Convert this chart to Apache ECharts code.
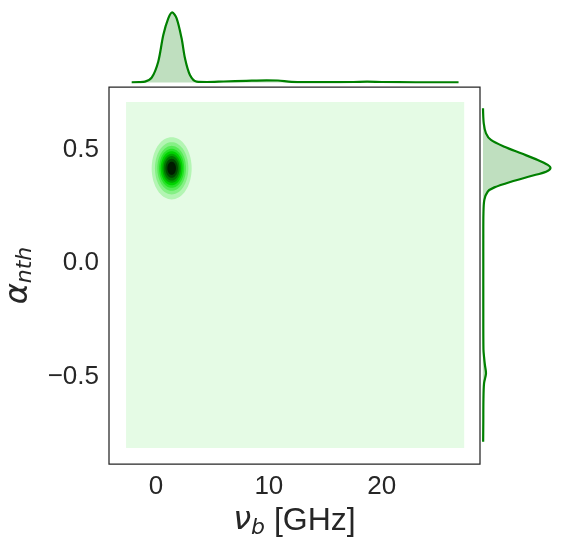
<!DOCTYPE html>
<html>
<head>
<meta charset="utf-8">
<title>joint KDE</title>
<script src="https://cdn.jsdelivr.net/npm/echarts@6/dist/echarts.min.js"></script>
<style>
  html, body { margin: 0; padding: 0; background: #fff; }
  #chart { width: 564px; height: 548px; }
</style>
</head>
<body>
<div id="chart"></div>
<script>
// tick labels
const xTicks = [0, 10, 20]
const yTicks = [-0.5, 0.0, 0.5]

// top marginal: KDE of nu_b
const topX = [-2.15, -1.5, -0.97, -0.38, 0.2, 0.65, 1.09, 1.44, 1.83, 2.27, 2.57, 3.01, 3.6, 4.5, 6, 8, 9.8, 10.8, 12, 15, 17.5, 18.7, 20, 23, 26.8]
const topDensity = [0.001, 0.002, 0.005, 0.029, 0.125, 0.285, 0.385, 0.421, 0.385, 0.265, 0.145, 0.045, 0.005, 0.003, 0.006, 0.010, 0.013, 0.012, 0.004, 0.002, 0.003, 0.005, 0.003, 0.001, 0.001]

// right marginal: KDE of alpha_nth
const rightY = [0.681, 0.615, 0.571, 0.542, 0.512, 0.483, 0.454, 0.432, 0.417, 0.402, 0.383, 0.358, 0.333, 0.314, 0.278, 0.219, 0.1, 0.0, -0.2, -0.38, -0.413, -0.45, -0.486, -0.53, -0.6, -0.7, -0.787]
const rightDensity = [0.0, 0.05, 0.2, 0.53, 1.43, 2.54, 3.65, 4.32, 4.5, 4.21, 3.21, 1.87, 0.76, 0.31, 0.09, 0.03, 0.02, 0.02, 0.02, 0.03, 0.07, 0.13, 0.2, 0.07, 0.03, 0.02, 0.01]

// 2d KDE: lowest level fills the whole grid, then nested contours round the peak
const kdeExtentX = [-2.65, 27.3]
const kdeExtentY = [-0.815, 0.709]
const blobCenter = [1.39, 0.417]
const levelHalfX = [1.77, 1.48, 1.27, 1.11, 0.97, 0.83, 0.70, 0.55, 0.38]
const levelHalfY = [0.137, 0.115, 0.099, 0.086, 0.075, 0.064, 0.054, 0.042, 0.029]

// colours: light green -> lime -> black
const bgColor = '#e5fbe5'
const levelColors = ['#b3f5b3', '#85f085', '#55ea55', '#27e227', '#00d200', '#00a500', '#007700', '#004a00', '#001c00']
const lineGreen = '#008000'
const fillGreen = 'rgba(0,128,0,0.25)'
const textColor = '#262626'

const xRange = [-4.16, 28.7]
const yRange = [-0.885, 0.775]

const myChart = echarts.init(document.getElementById('chart'))

// axis titles with subscripts
const subRich = {
  g: { fontFamily: 'DejaVu Sans', fontStyle: 'italic', fontSize: 32, color: textColor },
  s: { fontFamily: 'DejaVu Sans', fontStyle: 'italic', fontSize: 22, color: textColor, padding: [14, 0, 0, 0] },
  r: { fontFamily: 'Liberation Sans', fontSize: 32, color: textColor }
}

myChart.setOption({
  animation: false,
  grid: [
    { left: 109, top: 87, width: 371, height: 377, outerBoundsMode: 'none', show: true, borderColor: textColor, borderWidth: 1.25, backgroundColor: 'transparent' },
    { left: 109, top: 10, width: 371, height: 72.5, outerBoundsMode: 'none' },
    { left: 483, top: 87, width: 70, height: 377, outerBoundsMode: 'none' }
  ],
  xAxis: [
    {
      gridIndex: 0, type: 'value', min: xRange[0], max: xRange[1],
      axisLine: { show: false }, axisTick: { show: false }, splitLine: { show: false },
      axisLabel: {
        customValues: xTicks, margin: 10, fontSize: 26, fontFamily: 'Liberation Sans', color: textColor,
        formatter: v => String(v)
      },
      name: '{g|ν}{s|b}{r| [GHz]}', nameLocation: 'middle', nameGap: 37,
      nameTextStyle: { rich: subRich }
    },
    { gridIndex: 1, type: 'value', min: xRange[0], max: xRange[1], show: false },
    { gridIndex: 2, type: 'value', min: 0, max: 4.67, show: false }
  ],
  yAxis: [
    {
      gridIndex: 0, type: 'value', min: yRange[0], max: yRange[1],
      axisLine: { show: false }, axisTick: { show: false }, splitLine: { show: false },
      axisLabel: {
        customValues: yTicks, margin: 10, fontSize: 26, fontFamily: 'Liberation Sans', color: textColor,
        formatter: v => v.toFixed(1).replace('-', '\u2212')
      },
      name: '{g|α}{s|nth}', nameLocation: 'middle', nameRotate: 90, nameGap: 70,
      nameTextStyle: { rich: subRich }
    },
    { gridIndex: 1, type: 'value', min: 0, max: 0.435, show: false },
    { gridIndex: 2, type: 'value', min: yRange[0], max: yRange[1], show: false }
  ],
  series: [
    {
      // lowest KDE level
      type: 'custom', xAxisIndex: 0, yAxisIndex: 0, clip: true, silent: true,
      data: [[kdeExtentX[0], kdeExtentY[0], kdeExtentX[1], kdeExtentY[1]]],
      encode: { x: [0, 2], y: [1, 3] },
      renderItem (params, api) {
        const p0 = api.coord([api.value(0), api.value(3)])
        const p1 = api.coord([api.value(2), api.value(1)])
        return { type: 'rect', shape: { x: p0[0], y: p0[1], width: p1[0] - p0[0], height: p1[1] - p0[1] }, style: { fill: bgColor } }
      }
    },
    {
      // nested contour levels
      type: 'custom', xAxisIndex: 0, yAxisIndex: 0, clip: true, silent: true,
      data: levelHalfX.map((hx, i) => [blobCenter[0], blobCenter[1], hx, levelHalfY[i]]),
      encode: { x: 0, y: 1 },
      renderItem (params, api) {
        const cx = api.value(0); const cy = api.value(1)
        const hx = api.value(2); const hy = api.value(3)
        const pts = []
        for (let k = 0; k < 72; k++) {
          const t = k / 72 * Math.PI * 2
          pts.push(api.coord([cx + hx * Math.cos(t), cy + hy * Math.sin(t)]))
        }
        return { type: 'polygon', shape: { points: pts }, style: { fill: levelColors[params.dataIndex] } }
      }
    },
    {
      type: 'line', xAxisIndex: 1, yAxisIndex: 1, smooth: 0.3, symbol: 'none', silent: true,
      data: topX.map((x, i) => [x, topDensity[i]]),
      lineStyle: { color: lineGreen, width: 2.2 },
      areaStyle: { color: fillGreen, opacity: 1 }
    },
    {
      type: 'custom', xAxisIndex: 2, yAxisIndex: 2, silent: true,
      data: rightY.map((y, i) => [rightDensity[i], y]),
      encode: { x: 0, y: 1 },
      renderItem (params, api) {
        if (params.dataIndex !== 0) return null
        const pts = rightY.map((y, i) => api.coord([rightDensity[i], y]))
        const fillPts = [api.coord([0, rightY[0]])].concat(pts, [api.coord([0, rightY[rightY.length - 1]])])
        return {
          type: 'group',
          children: [
            { type: 'polygon', shape: { points: fillPts, smooth: 0.3 }, style: { fill: fillGreen } },
            { type: 'polyline', shape: { points: pts, smooth: 0.3 }, style: { fill: null, stroke: lineGreen, lineWidth: 2.2 } }
          ]
        }
      }
    }
  ]
})
</script>
</body>
</html>
